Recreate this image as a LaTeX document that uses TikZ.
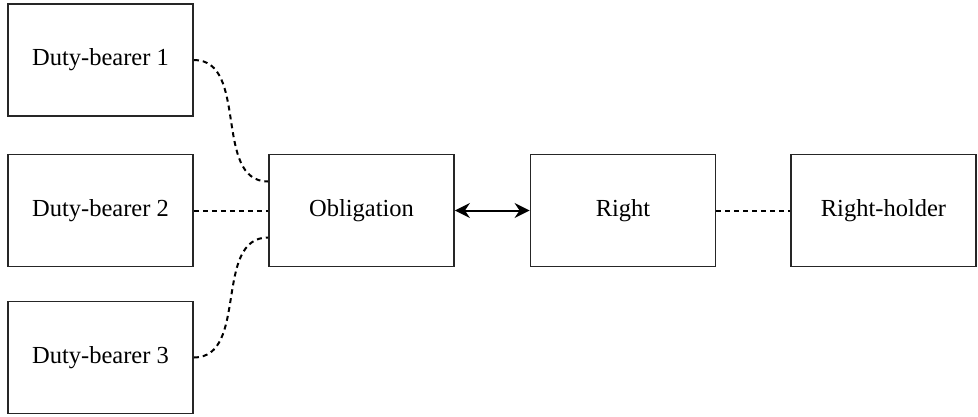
\documentclass[tikz,border=0pt]{standalone}
\usepackage{fontspec}
\setmainfont{Liberation Serif}
\usetikzlibrary{arrows.meta}

\begin{document}
\begin{tikzpicture}[x=1pt, y=-1pt,
    box/.style={draw=black!85, line width=1.8pt, minimum width=185pt, minimum height=112pt, inner sep=0pt, font=\fontsize{24.5}{28}\selectfont},
    link/.style={line width=2pt, dash pattern=on 5pt off 4pt}]
    \useasboundingbox (0,0) rectangle (978,416);
    \node[box] (db1) at (100.5,60) {Duty-bearer 1};
    \node[box] (db2) at (100.5,210.5) {Duty-bearer 2};
    \node[box] (db3) at (100.5,357.5) {Duty-bearer 3};
    \node[box] (oblig) at (361.5,210.5) {Obligation};
    \node[box] (right) at (623,210.5) {Right};
    \node[box] (holder) at (883.5,210.5) {Right-holder};
    \coordinate (obtop) at ([yshift=29pt]oblig.west);
    \coordinate (obbot) at ([yshift=-27pt]oblig.west);
    \draw[link] (db1.east) to[out=0, in=180] (obtop);
    \draw[link] (db2.east) -- (oblig.west);
    \draw[link] (db3.east) to[out=0, in=180] (obbot);
    \draw[line width=2pt, {Stealth[length=15pt, width=15pt, inset=5pt]}-{Stealth[length=15pt, width=15pt, inset=5pt]}] (oblig.east) -- (right.west);
    \draw[link] (right.east) -- (holder.west);
\end{tikzpicture}
\end{document}
